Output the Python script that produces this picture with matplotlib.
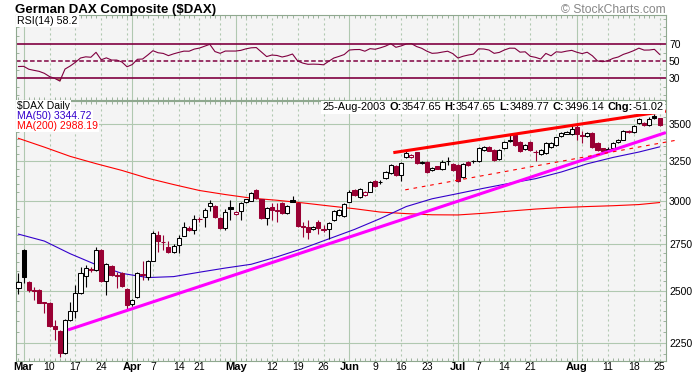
import matplotlib
matplotlib.use('Agg')
import matplotlib.pyplot as plt
import numpy as np
import pandas as pd
from matplotlib.offsetbox import TextArea, HPacker, AnchoredOffsetbox
from matplotlib.ticker import NullFormatter

plt.rcParams['font.family'] = ['Liberation Sans', 'DejaVu Sans']

# trading calendar (Xetra, Easter closed)
holidays = ['2003-04-18', '2003-04-21']
dates = pd.bdate_range('2003-02-28', '2003-08-25')
dates = dates[~dates.isin(pd.to_datetime(holidays))]

# daily candles
opens = [2512, 2715, 2543, 2502, 2504, 2441, 2440, 2328, 2306, 2205,
         2356, 2401, 2490, 2577, 2614, 2607, 2715, 2549, 2629, 2578,
         2590, 2509, 2433, 2469, 2584, 2572, 2657, 2799, 2760, 2733,
         2702, 2741, 2795, 2840, 2824, 2893, 2902, 2968, 2968, 2898,
         2836, 2960, 2920, 2940, 2992, 3000, 3066, 3009, 2894, 2964,
         2945, 2984, 2928, 3004, 2984, 2849, 2846, 2831, 2870, 2830,
         2831, 2885, 2914, 2908, 2994, 3066, 3024, 3035, 3055, 3122,
         3112, 3140, 3171, 3218, 3160, 3274, 3276, 3307, 3245, 3245,
         3191, 3215, 3196, 3252, 3230, 3225, 3146, 3245, 3248, 3248,
         3325, 3346, 3325, 3264, 3336, 3392, 3424, 3381, 3330, 3377,
         3310, 3297, 3302, 3346, 3359, 3421, 3435, 3432, 3485, 3424,
         3416, 3443, 3374, 3336, 3328, 3336, 3376, 3395, 3457, 3449,
         3512, 3512, 3497, 3563, 3547.65]
highs = [2590, 2722, 2549, 2517, 2506, 2444, 2442, 2356, 2310, 2362,
         2444, 2529, 2625, 2634, 2622, 2731, 2722, 2645, 2633, 2597,
         2595, 2512, 2460, 2596, 2652, 2660, 2818, 2818, 2799, 2765,
         2745, 2799, 2870, 2850, 2915, 2900, 2956, 3004, 2972, 2902,
         2948, 3004, 2940, 2990, 3012, 3055, 3072, 3012, 2960, 2986,
         2986, 2990, 2972, 3029, 2990, 2875, 2885, 2852, 2885, 2858,
         2875, 2946, 2950, 2985, 3062, 3072, 3076, 3060, 3124, 3128,
         3125, 3188, 3232, 3225, 3247, 3318, 3298, 3312, 3250, 3250,
         3208, 3220, 3255, 3274, 3240, 3230, 3236, 3250, 3255, 3342,
         3352, 3352, 3330, 3332, 3388, 3424, 3430, 3388, 3365, 3382,
         3325, 3330, 3378, 3380, 3415, 3450, 3456, 3497, 3505, 3455,
         3450, 3450, 3380, 3340, 3346, 3380, 3396, 3462, 3462, 3498,
         3548, 3518, 3552, 3575, 3547.65]
lows = [2483, 2541, 2494, 2454, 2436, 2390, 2324, 2262, 2186, 2200,
        2350, 2366, 2485, 2518, 2595, 2600, 2545, 2478, 2577, 2513,
        2518, 2406, 2425, 2465, 2555, 2555, 2652, 2705, 2715, 2700,
        2698, 2697, 2790, 2820, 2801, 2875, 2846, 2935, 2895, 2835,
        2824, 2885, 2915, 2885, 2985, 2995, 3010, 2890, 2858, 2885,
        2875, 2920, 2922, 2990, 2845, 2785, 2776, 2826, 2802, 2815,
        2776, 2880, 2908, 2903, 2990, 3030, 3018, 3030, 3050, 3085,
        3105, 3135, 3165, 3155, 3120, 3268, 3270, 3230, 3230, 3175,
        3185, 3195, 3190, 3225, 3185, 3118, 3140, 3220, 3240, 3242,
        3318, 3315, 3250, 3258, 3330, 3375, 3352, 3312, 3325, 3320,
        3250, 3290, 3295, 3340, 3352, 3410, 3430, 3425, 3395, 3370,
        3410, 3340, 3318, 3308, 3310, 3330, 3370, 3390, 3440, 3442,
        3505, 3488, 3490, 3540, 3489.77]
closes = [2546, 2569, 2504, 2497, 2440, 2437, 2328, 2312, 2205, 2356,
          2401, 2487, 2590, 2617, 2608, 2715, 2549, 2639, 2582, 2574,
          2523, 2430, 2454, 2591, 2581, 2655, 2812, 2765, 2756, 2705,
          2737, 2780, 2843, 2829, 2891, 2888, 2944, 2986, 2900, 2840,
          2933, 2948, 2934, 2984, 3007, 3049, 3015, 2894, 2954, 2941,
          2938, 2925, 2968, 2994, 2850, 2845, 2817, 2846, 2836, 2827,
          2866, 2940, 2944, 2978, 3055, 3035, 3070, 3055, 3118, 3091,
          3118, 3181, 3225, 3160, 3236, 3303, 3291, 3236, 3238, 3181,
          3202, 3199, 3246, 3248, 3191, 3124, 3230, 3225, 3250, 3336,
          3346, 3320, 3258, 3325, 3381, 3385, 3359, 3319, 3359, 3325,
          3307, 3325, 3370, 3374, 3409, 3439, 3450, 3467, 3432, 3421,
          3443, 3346, 3325, 3315, 3322, 3374, 3390, 3457, 3446, 3492,
          3541, 3493, 3540, 3547.16, 3496.14]

# RSI(14), one value per session
rsi = [43.9, 44.1, 40.7, 39.4, 38.2, 35.9, 32.1, 30.0, 26.8, 40.9,
       44.5, 48.8, 53.9, 55.3, 54.8, 60.6, 51.8, 54.1, 51.5, 51.5,
       49.2, 43.6, 46.2, 52.4, 52.7, 57.4, 62.5, 60.1, 59.3, 56.7,
       58.8, 60.5, 62.0, 61.9, 64.4, 65.6, 67.8, 70.0, 61.5, 59.4,
       62.1, 62.1, 62.1, 62.9, 64.7, 65.9, 66.2, 60.9, 55.6, 57.4,
       56.9, 55.1, 56.5, 58.6, 50.4, 47.9, 46.5, 46.7, 46.5, 45.9,
       50.0, 53.9, 55.8, 58.0, 63.3, 63.8, 63.9, 61.9, 64.9, 64.2,
       65.9, 67.9, 70.8, 66.5, 68.1, 70.4, 70.8, 67.4, 65.3, 61.9,
       59.4, 59.8, 60.9, 61.9, 59.1, 53.9, 56.0, 57.4, 58.5, 64.7,
       64.5, 63.3, 59.4, 60.5, 63.4, 65.5, 65.4, 60.8, 61.2, 55.9,
       54.7, 52.7, 59.3, 56.5, 61.2, 60.7, 62.0, 62.9, 60.7, 59.1,
       60.7, 56.5, 50.4, 49.6, 50.7, 53.5, 55.1, 58.2, 60.2, 62.6,
       65.5, 63.2, 63.3, 64.1, 58.2]

# moving averages, sampled every 5 sessions
ma_idx = [0, 5, 10, 15, 20, 25, 30, 35, 40, 45, 50, 55, 60, 65, 70, 75,
          80, 85, 90, 95, 100, 105, 110, 115, 120, 124]
ma50 = [2803, 2764, 2694, 2635, 2589, 2567, 2572, 2595, 2617, 2637, 2677,
        2723, 2776, 2830, 2893, 2964, 3011, 3043, 3076, 3107, 3136, 3179,
        3232, 3274, 3310, 3344.72]
ma200 = [3403, 3343, 3281, 3233, 3189, 3139, 3099, 3062, 3037, 3015, 3002,
         2986, 2968, 2951, 2931, 2922, 2915, 2914, 2924, 2937, 2949, 2958,
         2964, 2969, 2976, 2988.19]

# hand drawn trend lines (session index, price)
trend_magenta_x = [9.6, 125.2]
trend_magenta_y = [2309, 3443]
trend_top_x = [72.5, 125.2]
trend_top_y = [3306, 3596]
trend_dash_x = [74.8, 127.5]
trend_dash_y = [3066, 3392]

tick_dates = ['2003-03-03', '2003-03-10', '2003-03-17', '2003-03-24',
              '2003-04-01', '2003-04-07', '2003-04-14', '2003-04-22',
              '2003-05-01', '2003-05-12', '2003-05-19', '2003-05-26',
              '2003-06-02', '2003-06-09', '2003-06-16', '2003-06-23',
              '2003-07-01', '2003-07-07', '2003-07-14', '2003-07-21',
              '2003-08-01', '2003-08-11', '2003-08-18', '2003-08-25']
tick_text = ['Mar', '10', '17', '24', 'Apr', '7', '14', '21', 'May', '12',
             '19', '26', 'Jun', '9', '16', '23', 'Jul', '7', '14', '21',
             'Aug', '11', '18', '25']
price_levels = [2250, 2500, 2750, 3000, 3250, 3500]

BG = '#f4f4f4'
GRID = '#b0c8b0'
TICK_C = '#8fa88f'
CANDLE_RED = '#990033'
RSI_C = '#800040'
MA50_C = '#3300cc'
MA200_C = '#ff0000'

W_PX, H_PX = 696, 376
X0_IDX = -0.48
X1_IDX = 125.24


def grid_positions():
    month_pos, week_pos = [], []
    for i in range(1, len(dates)):
        if dates[i].month != dates[i - 1].month:
            month_pos.append(i)
        elif dates[i].isocalendar()[1] != dates[i - 1].isocalendar()[1]:
            week_pos.append(i)
    return month_pos, week_pos


def draw_vgrid(ax, month_pos, week_pos):
    for p in month_pos:
        ax.axvline(p, color=GRID, lw=0.8, zorder=1)
    for p in week_pos:
        ax.axvline(p, color=GRID, lw=0.8, ls=(0, (1.9, 2.6)), zorder=1)


def style_axes(ax, tick_pos):
    ax.set_facecolor(BG)
    for s in ax.spines.values():
        s.set_color(TICK_C)
        s.set_linewidth(0.8)
    ax.set_xlim(X0_IDX, X1_IDX)
    ax.set_xticks(tick_pos)
    ax.set_xticks(np.arange(len(dates)), minor=True)
    ax.tick_params(axis='x', which='major', length=0, pad=0.5, labelsize=7.5)
    ax.tick_params(axis='x', which='minor', direction='in', length=2.5,
                   width=0.6, color=TICK_C, top=True, bottom=True)
    ax.tick_params(axis='y', which='major', length=0, pad=2.2, labelsize=7.5,
                   left=False, right=True, labelleft=False, labelright=True)
    ax.tick_params(axis='y', which='minor', direction='in', length=2.5,
                   width=0.6, color=TICK_C, left=True, right=True)


def draw_candles(ax, x, o, h, l, c):
    prev = np.concatenate([[c[0]], c[:-1]])
    colors = [CANDLE_RED if c[i] < prev[i] else 'black' for i in range(len(c))]
    faces = [colors[i] if c[i] < o[i] else 'white' for i in range(len(c))]
    lo = np.minimum(o, c)
    hi = np.maximum(o, c)
    ax.vlines(x, l, h, colors=colors, linewidth=0.8, zorder=4)
    ax.bar(x, hi - lo, bottom=lo, width=0.8, color=faces, edgecolor=colors,
           linewidth=0.75, zorder=5)


def plot():
    fig = plt.figure(figsize=(W_PX / 100, H_PX / 100), dpi=100)
    left = 16 / W_PX
    width = 650 / W_PX
    ax_rsi = fig.add_axes([left, 1 - 99.5 / H_PX, width, 84.5 / H_PX])
    ax = fig.add_axes([left, 1 - 361 / H_PX, width, 260.5 / H_PX])

    x = np.arange(len(dates))
    o, h, l, c = (np.array(v, dtype=float) for v in (opens, highs, lows, closes))
    month_pos, week_pos = grid_positions()
    tick_pos = [dates.get_loc(pd.Timestamp(d)) for d in tick_dates]

    # ---- RSI panel ----
    style_axes(ax_rsi, tick_pos)
    ax_rsi.tick_params(axis='x', labelbottom=False)
    ax_rsi.set_ylim(5.1, 104.5)
    ax_rsi.set_yticks([30, 50, 70], labels=['30', '50', '70'])
    ax_rsi.set_yticks(np.arange(10, 101, 10), minor=True)
    ax_rsi.yaxis.set_minor_formatter(NullFormatter())
    draw_vgrid(ax_rsi, month_pos, week_pos)
    ax_rsi.axhline(70, color=RSI_C, lw=1.2, zorder=2)
    ax_rsi.axhline(30, color=RSI_C, lw=1.2, zorder=2)
    ax_rsi.axhline(50, color=RSI_C, lw=1.1, ls=(0, (3, 1.6)), zorder=2)
    r = np.array(rsi)
    ax_rsi.fill_between(x, r, 30, where=r < 30, interpolate=True,
                        color='#a8884f', lw=0, zorder=2)
    ax_rsi.fill_between(x, r, 70, where=r > 70, interpolate=True,
                        color='#a8884f', lw=0, zorder=2)
    ax_rsi.plot(x, r, color=RSI_C, lw=0.8, zorder=3)
    ax_rsi.text(1.3 / 650, (99.5 - 24) / 84.5, f'RSI(14) {rsi[-1]:.1f}',
                transform=ax_rsi.transAxes, fontsize=7.7, va='baseline',
                bbox=dict(facecolor='white', edgecolor='none', pad=0.6), zorder=7)

    # ---- price panel ----
    ax.set_yscale('log')
    style_axes(ax, tick_pos)
    ax.set_ylim(2168, 3674)
    ax.set_yticks(price_levels, labels=[str(v) for v in price_levels])
    minors = [v for v in range(2200, 3700, 50) if v not in price_levels]
    ax.set_yticks(minors, minor=True)
    ax.yaxis.set_minor_formatter(NullFormatter())
    ax.set_xticklabels(tick_text)
    for lab in ax.get_xticklabels():
        if lab.get_text().isalpha():
            lab.set_fontweight('bold')
            lab.set_fontsize(8)
    for v in price_levels:
        ax.axhline(v, color=GRID, lw=0.8, zorder=1)
    draw_vgrid(ax, month_pos, week_pos)

    ax.plot(ma_idx, ma200, color=MA200_C, lw=0.8, zorder=3)
    ax.plot(ma_idx, ma50, color=MA50_C, lw=0.8, zorder=3)
    draw_candles(ax, x, o, h, l, c)
    ax.plot(trend_magenta_x, trend_magenta_y, color='#ff00ff', lw=2.2,
            solid_capstyle='butt', zorder=6)
    ax.plot(trend_top_x, trend_top_y, color='#ff0000', lw=2.2,
            solid_capstyle='butt', zorder=6)
    ax.plot(trend_dash_x, trend_dash_y, color='#ff0000', lw=0.8,
            ls=(0, (3.3, 4.3)), zorder=6, clip_on=False)

    # labels in the price panel
    tx = 1.3 / 650
    lab_fs = 7.5
    ax.text(tx, (361 - 109.3) / 260.5, '$DAX Daily', transform=ax.transAxes,
            fontsize=lab_fs, va='baseline', color='black', zorder=7,
            bbox=dict(facecolor='white', edgecolor='none', pad=0.8))
    ax.text(tx, (361 - 119.0) / 260.5, f'MA(50) {ma50[-1]:.2f}',
            transform=ax.transAxes, fontsize=lab_fs, va='baseline', color=MA50_C,
            zorder=7, bbox=dict(facecolor='white', edgecolor='none', pad=0.8))
    ax.text(tx, (361 - 128.7) / 260.5, f'MA(200) {ma200[-1]:.2f}',
            transform=ax.transAxes, fontsize=lab_fs, va='baseline', color=MA200_C,
            zorder=7, bbox=dict(facecolor='white', edgecolor='none', pad=0.8))

    fs = 7.9

    def pair(key, val):
        return HPacker(children=[TextArea(key, textprops=dict(fontsize=fs, fontweight='bold')),
                                 TextArea(val, textprops=dict(fontsize=fs))],
                       align='baseline', pad=0, sep=0)

    chg = c[-1] - c[-2]
    parts = [TextArea(dates[-1].strftime('%d-%b-%Y'), textprops=dict(fontsize=fs)),
             pair('O:', f'{o[-1]:.2f}'), pair('H:', f'{h[-1]:.2f}'),
             pair('L:', f'{l[-1]:.2f}'), pair('C:', f'{c[-1]:.2f}'),
             pair('Chg:', f'{chg:.2f}')]
    box = HPacker(children=parts, align='baseline', pad=0, sep=2.4)
    anch = AnchoredOffsetbox(loc='upper right', child=box, pad=0.1, borderpad=0,
                             frameon=True, bbox_to_anchor=(665 / W_PX, 1 - 101 / H_PX),
                             bbox_transform=fig.transFigure)
    anch.patch.set_facecolor('white')
    anch.patch.set_edgecolor('none')
    anch.set_zorder(7)
    ax.add_artist(anch)

    fig.text(15 / W_PX, 1 - 12.7 / H_PX, 'German DAX Composite ($DAX)',
             fontsize=9.5, fontweight='bold', va='baseline')
    fig.text(666 / W_PX, 1 - 12.7 / H_PX, '\u00a9 StockCharts.com',
             fontsize=8.7, color='#888888', ha='right', va='baseline')

    fig.savefig('out.png', dpi=100, facecolor='white')


if __name__ == '__main__':
    plot()
